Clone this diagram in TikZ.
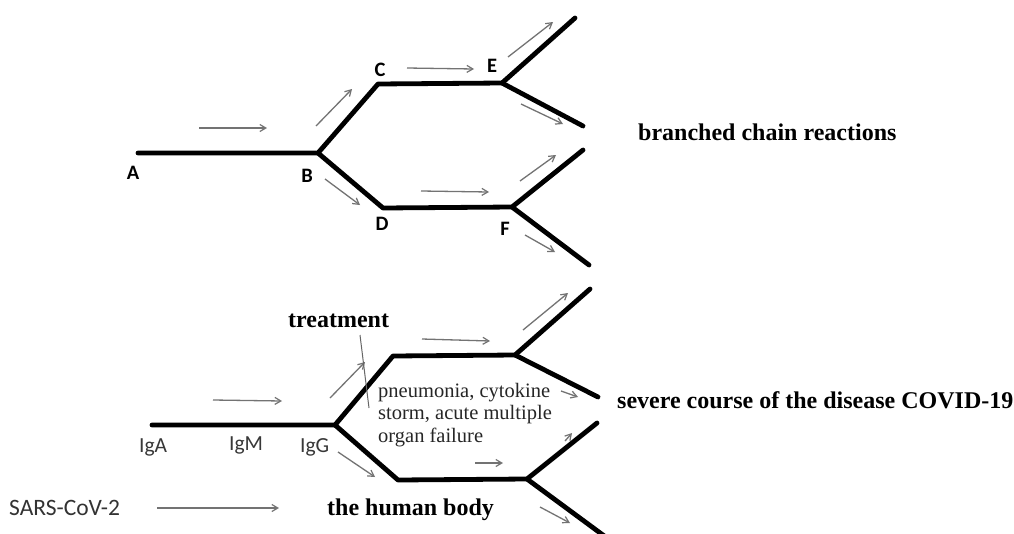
\documentclass[tikz,border=0pt]{standalone}
\usepackage{fontspec}
\setmainfont{Liberation Serif}
\newfontfamily\calfont{Carlito}
\usetikzlibrary{arrows.meta}
\tikzset{
  thick line/.style={line width=4.8pt, line cap=round, line join=round, black},
  garrow/.style={line width=1.3pt, black!55, -{Straight Barb[length=6pt,width=7pt,line width=1.2pt]}},
  bigbold/.style={font=\fontsize{24}{28}\selectfont\bfseries, inner sep=0pt, anchor=base west},
  letter/.style={font=\calfont\fontsize{20.5}{24}\selectfont\bfseries, inner sep=0pt},
  iglabel/.style={font=\calfont\fontsize{21.5}{24}\selectfont, text=black!78, inner sep=0pt, anchor=base west},
}
\begin{document}
\begin{tikzpicture}[x=1pt,y=-1pt]
\useasboundingbox (0,0) rectangle (1014,533);
\fill[white] (0,0) rectangle (1014,533);
% ---------- upper diagram ----------
\coordinate (A0) at (138,153);
\coordinate (Bj) at (318,153);
\coordinate (Cc) at (378,84);
\coordinate (Ej) at (502,83);
\coordinate (Eu) at (575,18);
\coordinate (Ed) at (583,126);
\coordinate (Dc) at (383,208);
\coordinate (Fj) at (512,207);
\coordinate (Fu) at (583,150);
\coordinate (Fd) at (589,265);
\draw[thick line] (A0) -- (Bj) -- (Cc) -- (Ej) -- (Eu);
\draw[thick line] (Ej) -- (Ed);
\draw[thick line] (Bj) -- (Dc) -- (Fj) -- (Fu);
\draw[thick line] (Fj) -- (Fd);
\node[letter] (lA) at (133,173) {A};
\node[letter] (lB) at (307,176) {B};
\node[letter] (lC) at (380,70) {C};
\node[letter] (lE) at (492,66) {E};
\node[letter] (lD) at (382,224) {D};
\node[letter] (lF) at (505,229) {F};
\draw[garrow] (199,128) coordinate (u1s) -- (267,128) coordinate (u1e);
\draw[garrow] (316,126) coordinate (u2s) -- (352,89) coordinate (u2e);
\draw[garrow] (407,68) coordinate (u3s) -- (474,69) coordinate (u3e);
\draw[garrow] (508,57) coordinate (u4s) -- (553,22) coordinate (u4e);
\draw[garrow] (521,104) coordinate (u5s) -- (563,124) coordinate (u5e);
\draw[garrow] (325,179) coordinate (u6s) -- (360,205) coordinate (u6e);
\draw[garrow] (421,191) coordinate (u7s) -- (489,192) coordinate (u7e);
\draw[garrow] (520,181) coordinate (u8s) -- (556,155) coordinate (u8e);
\draw[garrow] (525,235) coordinate (u9s) -- (555,252) coordinate (u9e);
\node[bigbold] (bcr) at (638,140) {branched chain reactions};
% ---------- lower diagram ----------
\coordinate (G0) at (152,425);
\coordinate (Gj) at (335,425);
\coordinate (Uc) at (393,356);
\coordinate (Uj) at (515,355);
\coordinate (Uu) at (590,289);
\coordinate (Ud) at (598,397);
\coordinate (Lc) at (398,480);
\coordinate (Lj) at (527,479);
\coordinate (Lu) at (597,423);
\coordinate (Ld) at (607,538);
\draw[thick line] (G0) -- (Gj) -- (Uc) -- (Uj) -- (Uu);
\draw[thick line] (Uj) -- (Ud);
\draw[thick line] (Gj) -- (Lc) -- (Lj) -- (Lu);
\draw[thick line] (Lj) -- (Ld);
\node[iglabel] (igA) at (139,452) {IgA};
\node[iglabel] (igM) at (229,450) {IgM};
\node[iglabel] (igG) at (300,452) {IgG};
\draw[garrow] (213,400) coordinate (l1s) -- (282,401) coordinate (l1e);
\draw[garrow] (330,398) coordinate (l2s) -- (365,362) coordinate (l2e);
\draw[garrow] (422,339) coordinate (l3s) -- (490,341) coordinate (l3e);
\draw[garrow] (523,330) coordinate (l4s) -- (568,293) coordinate (l4e);
\draw[garrow] (561,391) coordinate (l5s) -- (578,397) coordinate (l5e);
\draw[garrow] (565,441) coordinate (l6s) -- (572,433) coordinate (l6e);
\draw[garrow] (475,463) coordinate (l7s) -- (503,463) coordinate (l7e);
\draw[garrow] (338,452) coordinate (l8s) -- (375,477) coordinate (l8e);
\draw[garrow] (540,507) coordinate (l9s) -- (570,523) coordinate (l9e);
\node[bigbold] (treat) at (288,327) {treatment};
\coordinate (tr1) at (360,335);
\coordinate (tr2) at (369,408);
\draw[line width=1pt, black!60] (tr1) -- (tr2);
\node[anchor=north west, inner sep=0pt, align=left,
      font=\fontsize{20.5}{22.5}\selectfont, text=black!85] (sympt) at (378,383)
  {pneumonia, cytokine\\storm, acute multiple\\organ failure};
\node[bigbold] (severe) at (617,408) {severe course of the disease COVID-19};
\node[font=\calfont\fontsize{23.5}{27}\selectfont, text=black!80, inner sep=0pt, anchor=base west] (sars) at (9,515) {SARS-CoV-2};
\node[bigbold] (body) at (327,515) {the human body};
\coordinate (s1) at (157,508);
\coordinate (s2) at (279,508);
\draw[garrow] (s1) -- (s2);
\end{tikzpicture}
\end{document}
